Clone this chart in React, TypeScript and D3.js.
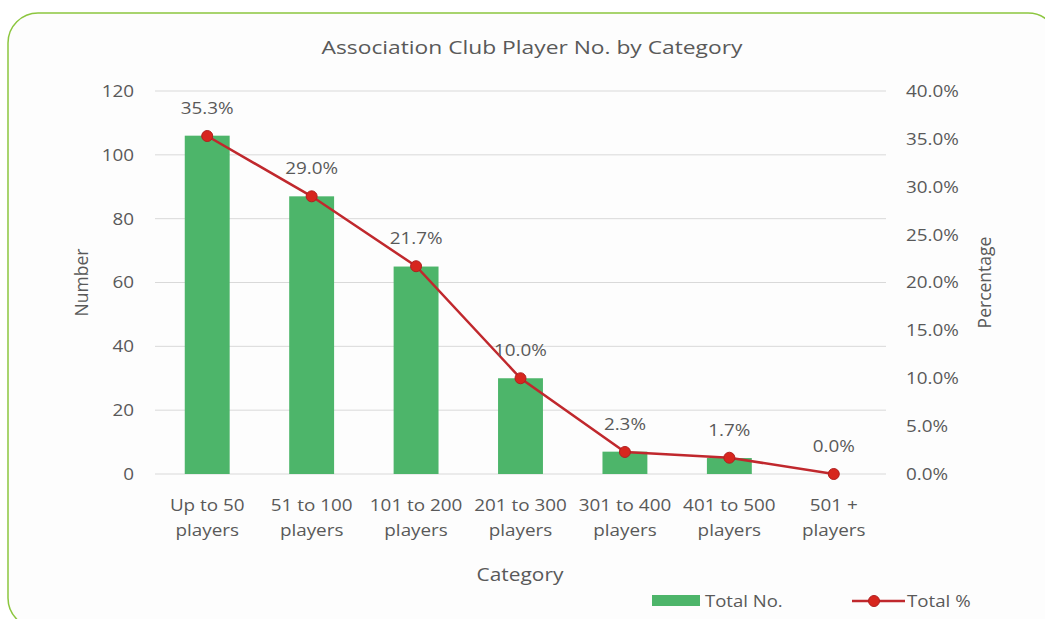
import React from "react";
import * as d3 from "d3";

const categories = [
  ["Up to 50", "players"],
  ["51 to 100", "players"],
  ["101 to 200", "players"],
  ["201 to 300", "players"],
  ["301 to 400", "players"],
  ["401 to 500", "players"],
  ["501 +", "players"],
];
const totalNo = [106, 87, 65, 30, 7, 5, 0];
const totalPct = [35.3, 29.0, 21.7, 10.0, 2.3, 1.7, 0.0];
const leftTicks = [0, 20, 40, 60, 80, 100, 120];
const rightTicks = [0, 5, 10, 15, 20, 25, 30, 35, 40];

const W = 1045;
const H = 619;
const plot = { left: 155, right: 886, top: 91, bottom: 474 };
const FONT = "'Open Sans', sans-serif";
const TXT = "#595959";
const BAR = "#4db56a";
const LINE = "#c0282d";
const MARK = "#d7261e";

type TProps = {
  x: number;
  y: number;
  size: number;
  sx?: number;
  anchor?: "start" | "middle" | "end";
  children: React.ReactNode;
};

function T({ x, y, size, sx = 1.11, anchor = "middle", children }: TProps) {
  return (
    <g transform={`translate(${x},${y}) scale(${sx},1)`}>
      <text x={0} y={0} dy="0.35em" textAnchor={anchor} fontSize={size} fill={TXT}>
        {children}
      </text>
    </g>
  );
}

export default function App() {
  const x = d3
    .scaleBand<number>()
    .domain(categories.map((_, i) => i))
    .range([plot.left, plot.right])
    .paddingInner(0.57)
    .paddingOuter(0.285);
  const yL = d3.scaleLinear().domain([0, 120]).range([plot.bottom, plot.top]);
  const yR = d3.scaleLinear().domain([0, 40]).range([plot.bottom, plot.top]);
  const cx = (i: number) => (x(i) as number) + x.bandwidth() / 2;
  const line = d3
    .line<number>()
    .x((_, i) => cx(i))
    .y((d) => yR(d));

  return (
    <svg
      width={W}
      height={H}
      style={{ position: "absolute", left: 0, top: 0, display: "block" }}
      fontFamily={FONT}
    >
      <rect x={0} y={0} width={W} height={H} fill="#ffffff" />
      <rect
        x={8}
        y={13}
        width={1050}
        height={615}
        rx={30}
        ry={30}
        fill="#fdfdfd"
        stroke="#8cc63f"
        strokeWidth={1.5}
      />
      <T x={532} y={47} size={19} sx={1.2}>
        Association Club Player No. by Category
      </T>

      {leftTicks.map((t) => (
        <line
          key={"g" + t}
          x1={plot.left}
          x2={plot.right}
          y1={yL(t)}
          y2={yL(t)}
          stroke="#d9d9d9"
          strokeWidth={1}
        />
      ))}
      {leftTicks.map((t) => (
        <T key={"l" + t} x={134} y={yL(t)} size={17} anchor="end">
          {t}
        </T>
      ))}
      {rightTicks.map((t) => (
        <T key={"r" + t} x={906} y={yR(t)} size={17} anchor="start">
          {t.toFixed(1) + "%"}
        </T>
      ))}

      {totalNo.map((v, i) => (
        <rect
          key={"b" + i}
          x={x(i)}
          y={yL(v)}
          width={x.bandwidth()}
          height={yL(0) - yL(v)}
          fill={BAR}
        />
      ))}

      <path d={line(totalPct) || ""} fill="none" stroke={LINE} strokeWidth={2.5} />
      {totalPct.map((v, i) => (
        <circle
          key={"m" + i}
          cx={cx(i)}
          cy={yR(v)}
          r={5.5}
          fill={MARK}
          stroke="#b02020"
          strokeWidth={1}
        />
      ))}
      {totalPct.map((v, i) => (
        <T key={"dl" + i} x={cx(i)} y={yR(v) - 28} size={17}>
          {v.toFixed(1) + "%"}
        </T>
      ))}

      {categories.map((c, i) => (
        <g key={"c" + i}>
          <T x={cx(i)} y={505} size={17}>
            {c[0]}
          </T>
          <T x={cx(i)} y={530} size={17}>
            {c[1]}
          </T>
        </g>
      ))}

      <text
        transform={`translate(82,${(plot.top + plot.bottom) / 2}) rotate(-90)`}
        textAnchor="middle"
        dy="0.35em"
        fontSize={17.5}
        fill={TXT}
      >
        Number
      </text>
      <text
        transform={`translate(985,${(plot.top + plot.bottom) / 2}) rotate(-90)`}
        textAnchor="middle"
        dy="0.35em"
        fontSize={17.5}
        fill={TXT}
      >
        Percentage
      </text>
      <T x={520} y={575} size={18} sx={1.16}>
        Category
      </T>

      <rect x={652} y={595} width={48} height={11} fill={BAR} />
      <T x={705} y={601} size={17} sx={1.09} anchor="start">
        Total No.
      </T>
      <line x1={852} x2={905} y1={601} y2={601} stroke={LINE} strokeWidth={2.5} />
      <circle cx={874} cy={601} r={5.5} fill={MARK} stroke="#b02020" strokeWidth={1} />
      <T x={907} y={601} size={17} sx={1.1} anchor="start">
        Total %
      </T>
    </svg>
  );
}
